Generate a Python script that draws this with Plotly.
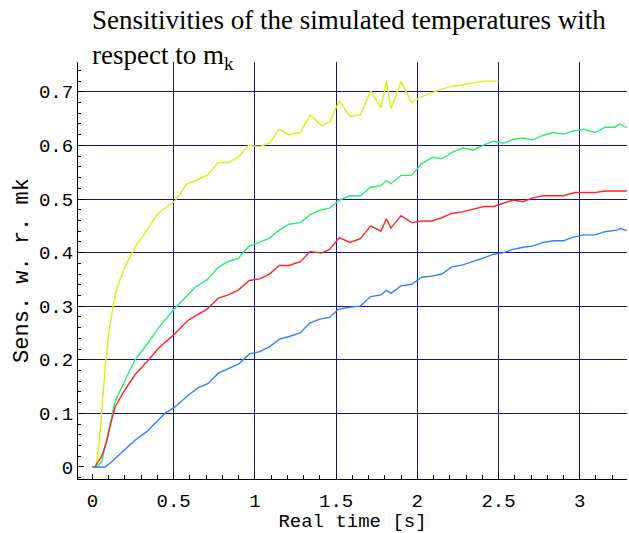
import plotly.graph_objects as go

# ---- data ----
yellow_x = [0.0, 0.02, 0.04, 0.06, 0.08, 0.10, 0.12, 0.14, 0.17, 0.21, 0.27, 0.33, 0.40, 0.46,
            0.51, 0.58, 0.64, 0.71, 0.775, 0.836, 0.898, 0.96, 1.03, 1.09, 1.15, 1.21, 1.28,
            1.34, 1.41, 1.46, 1.52, 1.585, 1.65, 1.713, 1.776, 1.81, 1.838, 1.90, 1.965,
            2.027, 2.09, 2.15, 2.21, 2.277, 2.34, 2.41, 2.50]
yellow_y = [0.0, 0.0, 0.04, 0.12, 0.19, 0.25, 0.29, 0.322, 0.35, 0.38, 0.414, 0.439, 0.472, 0.486,
            0.497, 0.528, 0.535, 0.545, 0.568, 0.568, 0.578, 0.60, 0.598, 0.604, 0.63, 0.62, 0.624,
            0.657, 0.637, 0.644, 0.683, 0.654, 0.657, 0.702, 0.670, 0.72, 0.669, 0.719, 0.680,
            0.691, 0.698, 0.705, 0.71, 0.713, 0.716, 0.72, 0.72]

green_x = [0.0, 0.026, 0.057, 0.097, 0.139, 0.21, 0.262, 0.334, 0.405, 0.498, 0.59, 0.63, 0.709,
           0.77, 0.832, 0.898, 0.96, 1.03, 1.09, 1.15, 1.21, 1.28, 1.34, 1.41, 1.46, 1.52, 1.585,
           1.65, 1.713, 1.776, 1.81, 1.838, 1.90, 1.965, 2.027, 2.095, 2.15, 2.22, 2.28, 2.345,
           2.41, 2.47, 2.53, 2.59, 2.65, 2.71, 2.776, 2.84, 2.90, 2.96, 3.02, 3.094, 3.156,
           3.217, 3.244, 3.29]
green_y = [0.0, 0.0, 0.01, 0.066, 0.122, 0.168, 0.2, 0.228, 0.259, 0.293, 0.321, 0.335, 0.35,
           0.371, 0.383, 0.389, 0.411, 0.42, 0.427, 0.442, 0.453, 0.456, 0.471, 0.48, 0.483,
           0.498, 0.506, 0.506, 0.522, 0.525, 0.534, 0.529, 0.544, 0.544, 0.566, 0.578, 0.575,
           0.588, 0.595, 0.591, 0.601, 0.608, 0.604, 0.611, 0.614, 0.61, 0.619, 0.624, 0.621,
           0.627, 0.63, 0.624, 0.634, 0.634, 0.64, 0.633]

red_x = [0.0, 0.015, 0.057, 0.087, 0.108, 0.139, 0.2, 0.262, 0.334, 0.405, 0.498, 0.59, 0.703,
         0.775, 0.836, 0.898, 0.966, 1.03, 1.09, 1.15, 1.21, 1.28, 1.34, 1.41, 1.46, 1.52, 1.585,
         1.65, 1.713, 1.776, 1.81, 1.838, 1.90, 1.965, 2.027, 2.09, 2.15, 2.21, 2.277, 2.34,
         2.41, 2.47, 2.53, 2.59, 2.65, 2.71, 2.776, 2.84, 2.90, 2.97, 3.02, 3.09, 3.156, 3.22,
         3.29]
red_y = [0.0, 0.0, 0.02, 0.047, 0.075, 0.112, 0.144, 0.172, 0.196, 0.221, 0.246, 0.274, 0.294,
         0.315, 0.321, 0.33, 0.348, 0.351, 0.36, 0.376, 0.376, 0.383, 0.402, 0.399, 0.406,
         0.428, 0.419, 0.426, 0.45, 0.44, 0.463, 0.446, 0.469, 0.456, 0.459, 0.459, 0.465,
         0.473, 0.476, 0.481, 0.486, 0.486, 0.492, 0.498, 0.495, 0.502, 0.506, 0.506, 0.506,
         0.512, 0.512, 0.512, 0.515, 0.515, 0.515]

blue_x = [0.0, 0.077, 0.108, 0.139, 0.2, 0.262, 0.334, 0.395, 0.446, 0.508, 0.59, 0.652, 0.713,
          0.775, 0.836, 0.904, 0.966, 1.027, 1.089, 1.15, 1.216, 1.278, 1.34, 1.40, 1.458,
          1.514, 1.585, 1.647, 1.713, 1.776, 1.81, 1.838, 1.90, 1.965, 2.027, 2.09, 2.15, 2.21,
          2.28, 2.345, 2.41, 2.47, 2.53, 2.59, 2.65, 2.71, 2.776, 2.84, 2.90, 2.96, 3.02, 3.094,
          3.156, 3.228, 3.25, 3.29]
blue_y = [0.0, 0.0, 0.007, 0.016, 0.032, 0.05, 0.066, 0.085, 0.1, 0.112, 0.134, 0.148, 0.156,
          0.175, 0.184, 0.193, 0.211, 0.215, 0.224, 0.238, 0.244, 0.25, 0.269, 0.276, 0.279,
          0.294, 0.298, 0.30, 0.318, 0.321, 0.33, 0.324, 0.338, 0.341, 0.354, 0.356, 0.36, 0.373,
          0.377, 0.383, 0.39, 0.397, 0.40, 0.406, 0.41, 0.412, 0.419, 0.422, 0.422, 0.429, 0.433,
          0.433, 0.439, 0.442, 0.445, 0.441]

x_grid = [0.5, 1.0, 1.5, 2.0, 2.5, 3.0]
y_grid = [0.1, 0.2, 0.3, 0.4, 0.5, 0.6, 0.7]

X_RANGE = [-0.089, 3.291]
Y_RANGE = [-0.0224, 0.7556]

GRID = "#14148a"
MONO = "Liberation Mono, Courier New, monospace"

fig = go.Figure()
series = [
    (yellow_x, yellow_y, "#d9f20a"),
    (green_x, green_y, "#26f06a"),
    (red_x, red_y, "#ff2525"),
    (blue_x, blue_y, "#2f80ff"),
]
for xs, ys, col in series:
    fig.add_trace(go.Scatter(x=xs, y=ys, mode="lines",
                             line=dict(color=col, width=1.4),
                             showlegend=False, hoverinfo="skip",
                             xaxis="x", yaxis="y"))

# empty trace so the overlay axes (ticks/labels/axis lines) render
fig.add_trace(go.Scatter(x=[None], y=[None], mode="lines", showlegend=False,
                         xaxis="x2", yaxis="y2", hoverinfo="skip"))

fig.update_layout(
    width=629, height=533,
    margin=dict(l=78, r=2, t=62, b=54),
    paper_bgcolor="white", plot_bgcolor="white",
    title=dict(
        text="Sensitivities of the simulated temperatures with<br>respect to m<sub>k</sub>",
        x=92 / 629, xanchor="left", xref="container",
        y=0.946, yanchor="top", yref="container",
        font=dict(family="Liberation Serif, Times New Roman, serif", size=27, color="black"),
    ),
    # primary axes: gridlines only
    xaxis=dict(range=X_RANGE, tickmode="array", tickvals=x_grid, showticklabels=False,
               showgrid=True, gridcolor=GRID, gridwidth=1.4, zeroline=False,
               showline=False, ticks=""),
    yaxis=dict(range=Y_RANGE, tickmode="array", tickvals=y_grid, showticklabels=False,
               showgrid=True, gridcolor=GRID, gridwidth=1.4, zeroline=False,
               showline=False, ticks=""),
    # overlay axes: frame, ticks, labels, titles
    xaxis2=dict(range=X_RANGE, overlaying="x", anchor="y2", side="bottom",
                tickmode="linear", tick0=0, dtick=0.5,
                ticks="inside", ticklen=5, tickwidth=1, tickcolor="black",
                minor=dict(tickmode="linear", tick0=0, dtick=0.1, ticks="inside",
                           ticklen=4, tickcolor="black", showgrid=False),
                showline=True, linecolor="black", linewidth=1.2,
                showgrid=False, zeroline=False, ticklabelstandoff=4,
                tickfont=dict(family=MONO, size=19, color="black"),
                title=dict(text="Real time [s]", standoff=1,
                           font=dict(family=MONO, size=19, color="black"))),
    yaxis2=dict(range=Y_RANGE, overlaying="y", anchor="x2", side="left",
                tickmode="linear", tick0=0, dtick=0.1,
                ticks="inside", ticklen=6, tickwidth=1, tickcolor="black",
                minor=dict(tickmode="linear", tick0=0, dtick=0.02, ticks="inside",
                           ticklen=3, tickcolor="black", showgrid=False),
                showline=True, linecolor="black", linewidth=1.2,
                showgrid=False, zeroline=False,
                tickfont=dict(family=MONO, size=19, color="black"),
                title=dict(text="Sens. w. r. mk", standoff=4,
                           font=dict(family=MONO, size=22, color="black"))),
)

fig.write_html("out.html")
